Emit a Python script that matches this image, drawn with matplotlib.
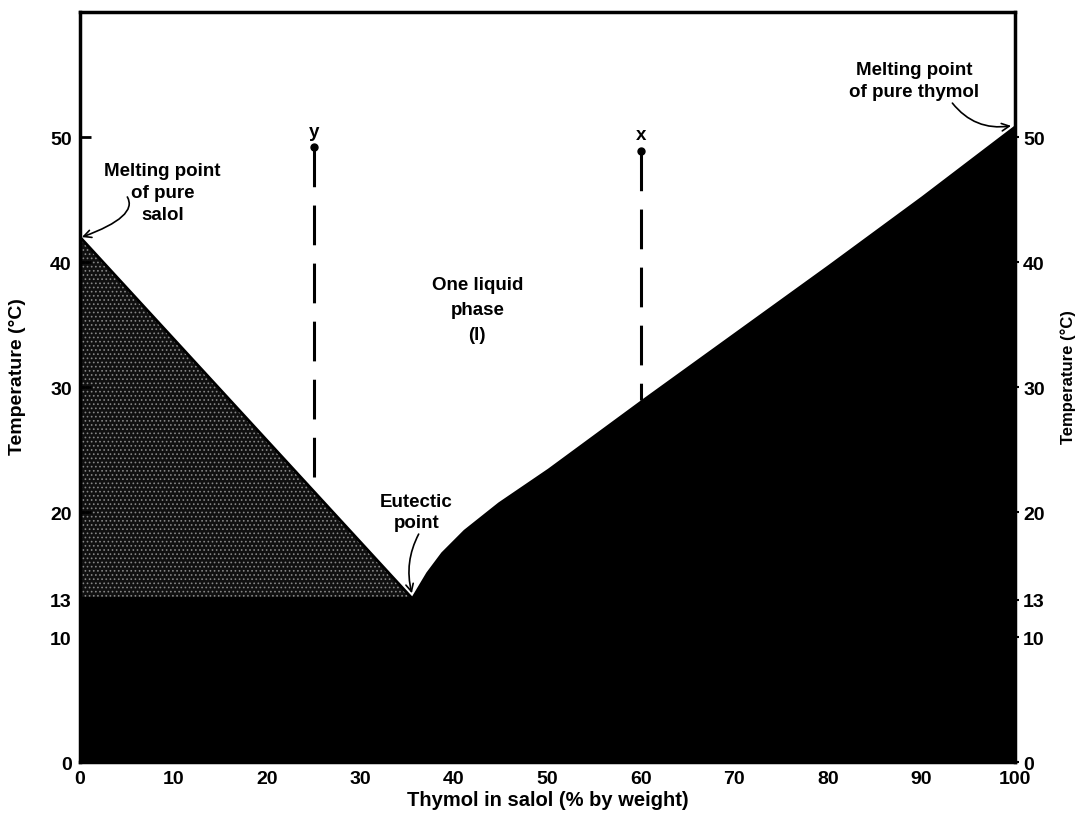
import numpy as np
import matplotlib
matplotlib.use("Agg")
import matplotlib.pyplot as plt

plt.rcParams['font.family'] = ['Liberation Sans', 'DejaVu Sans']
plt.rcParams['font.weight'] = 'bold'
plt.rcParams['hatch.linewidth'] = 0.7

# phase boundaries (x = % thymol, y = temperature in C)
salol_x = [0, 35.4]
salol_y = [42, 13.2]
thymol_x = [35.4, 37, 38.6, 41, 44.7, 50, 60, 70, 80, 90, 100]
thymol_y = [13.2, 15.2, 16.8, 18.6, 20.8, 23.5, 29, 34.4, 39.8, 45.3, 51]
eutectic_t = 13.2

# vertical composition lines y and x
comp_names = ['y', 'x']
comp_x = [25, 60]
comp_top = [49.2, 48.9]
comp_bottom = [21.8, 29]

xticks = [0, 10, 20, 30, 40, 50, 60, 70, 80, 90, 100]
yticks = [0, 10, 13, 20, 30, 40, 50]

fig = plt.figure(figsize=(10.83, 8.20), dpi=100)
ax = fig.add_axes([0.0739, 0.0695, 0.8631, 0.9145])

# solid below the eutectic temperature
ax.fill_between([0, 100], 0, eutectic_t, color='black', lw=0)
# solid salol + liquid (speckled)
ax.fill([salol_x[0], salol_x[0], salol_x[1]], [eutectic_t, salol_y[0], salol_y[1]],
        facecolor='#101010', edgecolor='#858585', hatch='....', lw=0)
ax.plot(salol_x, salol_y, color='black', lw=2)
# solid thymol + liquid
ax.fill_between(thymol_x, 0, thymol_y, color='black', lw=0)

for name, cx, top, bot in zip(comp_names, comp_x, comp_top, comp_bottom):
    ax.plot([cx, cx], [top, bot], color='black', lw=2.2,
            linestyle=(0, (13, 6)), dash_capstyle='butt')
    ax.plot([cx], [top], 'o', color='black', ms=5)
    ax.text(cx, top + 0.6, name, ha='center', va='bottom', fontsize=13.5, fontweight='bold')

ax.text(42.5, 36.2, 'One liquid\nphase\n(l)', ha='center', va='center',
        fontsize=13.5, fontweight='bold', linespacing=1.6)

ax.annotate('Melting point\nof pure\nsalol', xy=(0.2, 42), xytext=(8.8, 45.6),
            ha='center', va='center', fontsize=13.5, fontweight='bold', linespacing=1.38,
            arrowprops=dict(arrowstyle='->', color='black', lw=1.2,
                            shrinkA=0, shrinkB=0, patchA=None,
                            connectionstyle='angle3,angleA=-60,angleB=20',
                            relpos=(0.2, 0.42)))
ax.annotate('Melting point\nof pure thymol', xy=(99.6, 50.9), xytext=(89.2, 54.5),
            ha='center', va='center', fontsize=13.5, fontweight='bold', linespacing=1.38,
            arrowprops=dict(arrowstyle='->', color='black', lw=1.2,
                            shrinkA=0, shrinkB=0,
                            connectionstyle='arc3,rad=0.3',
                            relpos=(0.78, 0.0)))
ax.annotate('Eutectic\npoint', xy=(35.5, 13.5), xytext=(36.0, 20.0),
            ha='center', va='center', fontsize=13.5, fontweight='bold', linespacing=1.35,
            arrowprops=dict(arrowstyle='->', color='black', lw=1.2,
                            shrinkA=0, shrinkB=0,
                            connectionstyle='arc3,rad=0.2',
                            relpos=(0.55, 0.0)))

ax.set_xlim(0, 100)
ax.set_ylim(0, 60)
ax.set_xticks(xticks)
ax.set_yticks(yticks)
ax.set_xticklabels([str(t) for t in xticks], fontsize=14, fontweight='bold')
ax.set_yticklabels([str(t) for t in yticks], fontsize=14, fontweight='bold')
ax.tick_params(axis='y', direction='in', length=8, width=2, pad=6)
ax.tick_params(axis='x', direction='in', length=0, pad=6)

for s in ax.spines.values():
    s.set_linewidth(2.5)

ax.set_xlabel('Thymol in salol (% by weight)', fontsize=14.5, fontweight='bold', labelpad=2)
ax.set_ylabel('Temperature (°C)', fontsize=14, fontweight='bold')
ax.yaxis.set_label_coords(-0.058, 0.515)

ax2 = ax.twinx()
ax2.set_ylim(0, 60)
ax2.set_yticks(yticks)
ax2.set_yticklabels([str(t) for t in yticks], fontsize=14, fontweight='bold')
ax2.tick_params(axis='y', direction='out', length=3, width=1.5, pad=3)
for s in ax2.spines.values():
    s.set_visible(False)
ax2.set_ylabel('Temperature (°C)', fontsize=12, fontweight='bold', rotation=90)
ax2.yaxis.set_label_coords(1.049, 0.515)

fig.savefig('out.png', dpi=100)
